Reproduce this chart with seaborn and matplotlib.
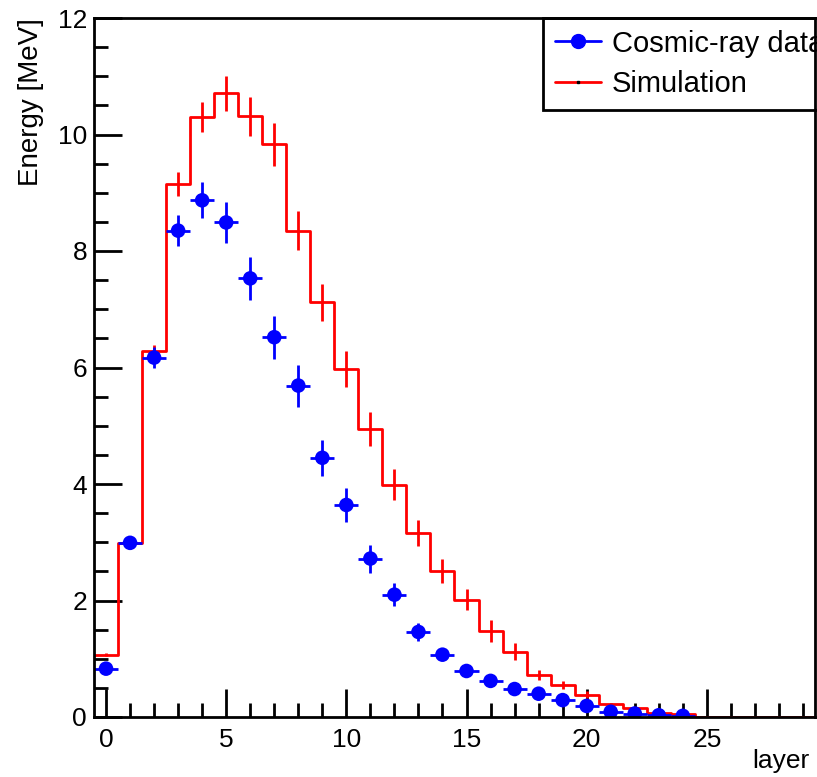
import numpy as np
import pandas as pd
import matplotlib
matplotlib.use("Agg")
import matplotlib.pyplot as plt
from matplotlib.lines import Line2D
from matplotlib.ticker import MultipleLocator
import seaborn as sns

# ---- data ----
layers_data = list(range(25))
data_energy = [0.83, 2.99, 6.17, 8.35, 8.87, 8.49, 7.53, 6.52, 5.69, 4.45,
               3.64, 2.72, 2.10, 1.46, 1.07, 0.79, 0.62, 0.48, 0.40, 0.29,
               0.19, 0.09, 0.06, 0.03, 0.02]
data_err = [0.05, 0.05, 0.18, 0.26, 0.31, 0.35, 0.37, 0.37, 0.36, 0.31,
            0.29, 0.24, 0.20, 0.15, 0.08, 0.06, 0.05, 0.04, 0.03, 0.03,
            0.02, 0.02, 0.01, 0.01, 0.01]

layers_sim = list(range(30))
sim_energy = [1.07, 2.99, 6.29, 9.15, 10.30, 10.71, 10.31, 9.83, 8.35, 7.12,
              5.98, 4.95, 3.99, 3.16, 2.51, 2.01, 1.48, 1.12, 0.72, 0.55,
              0.38, 0.22, 0.15, 0.07, 0.05, 0, 0, 0, 0, 0]
sim_err = [0.03, 0.05, 0.10, 0.20, 0.25, 0.30, 0.33, 0.37, 0.34, 0.32,
           0.31, 0.29, 0.26, 0.23, 0.21, 0.18, 0.19, 0.15, 0.08, 0.07,
           0.06, 0.04, 0.03, 0.02, 0.01, 0, 0, 0, 0, 0]

sns.set_theme(style="ticks")
plt.rcParams['font.family'] = ['Liberation Sans', 'DejaVu Sans']
plt.rcParams['text.color'] = 'black'
plt.rcParams['axes.labelcolor'] = 'black'

fig = plt.figure(figsize=(8.17, 7.77), dpi=100)
ax = fig.add_axes([94/817, 60/777, 721/817, 699/777])

# histogram outline: bin edges with steps-post
edges = np.arange(len(layers_sim) + 1) - 0.5
step_vals = sim_energy + [sim_energy[-1]]
sns.lineplot(x=edges, y=step_vals, drawstyle="steps-post", color="red",
             linewidth=2, ax=ax, estimator=None, sort=False)
ax.errorbar(layers_sim[:21], sim_energy[:21], yerr=sim_err[:21], fmt="none",
            ecolor="red", elinewidth=2, capsize=0)

ax.errorbar(layers_data, data_energy, yerr=data_err, xerr=0.5, fmt="none",
            ecolor="blue", elinewidth=2, capsize=0, zorder=3)
df_data = pd.DataFrame({"layer": layers_data, "energy": data_energy})
sns.scatterplot(data=df_data, x="layer", y="energy", color="blue", s=110,
                edgecolor="none", ax=ax, zorder=4)

ax.set_xlim(-0.5, 29.5)
ax.set_ylim(0, 12)
ax.xaxis.set_major_locator(MultipleLocator(5))
ax.xaxis.set_minor_locator(MultipleLocator(1))
ax.yaxis.set_major_locator(MultipleLocator(2))
ax.yaxis.set_minor_locator(MultipleLocator(0.5))
ax.tick_params(which="major", direction="in", length=20, width=2,
               labelsize=19, color="black", labelcolor="black", pad=8)
ax.tick_params(which="minor", direction="in", length=10, width=2,
               color="black")
ax.tick_params(axis="y", pad=5)
for sp in ax.spines.values():
    sp.set_visible(True)
    sp.set_linewidth(2)
    sp.set_color("black")
    sp.set_zorder(20)

ax.set_xlabel("layer", fontsize=19, loc="right")
ax.set_ylabel("Energy [MeV]", fontsize=20, loc="top")
ax.xaxis.set_label_coords(0.993, -0.046)
ax.yaxis.set_label_coords(-0.07, 1.0)

handles = [
    Line2D([0], [0], color="blue", lw=2, marker="o", markersize=10),
    Line2D([0], [0], color="red", lw=2, marker="s", markersize=2,
           markerfacecolor="black", markeredgecolor="black"),
]
leg = ax.legend(handles, ["Cosmic-ray data", "Simulation"], fontsize=21,
                loc="upper left", bbox_to_anchor=((543 - 94) / 721, 1.0),
                borderaxespad=0, fancybox=False, framealpha=1,
                edgecolor="black", handlelength=1.6, labelspacing=0.42,
                borderpad=0.4, handletextpad=0.35)
leg.get_frame().set_linewidth(2)
leg.set_zorder(10)

fig.savefig("out.png", dpi=100)
